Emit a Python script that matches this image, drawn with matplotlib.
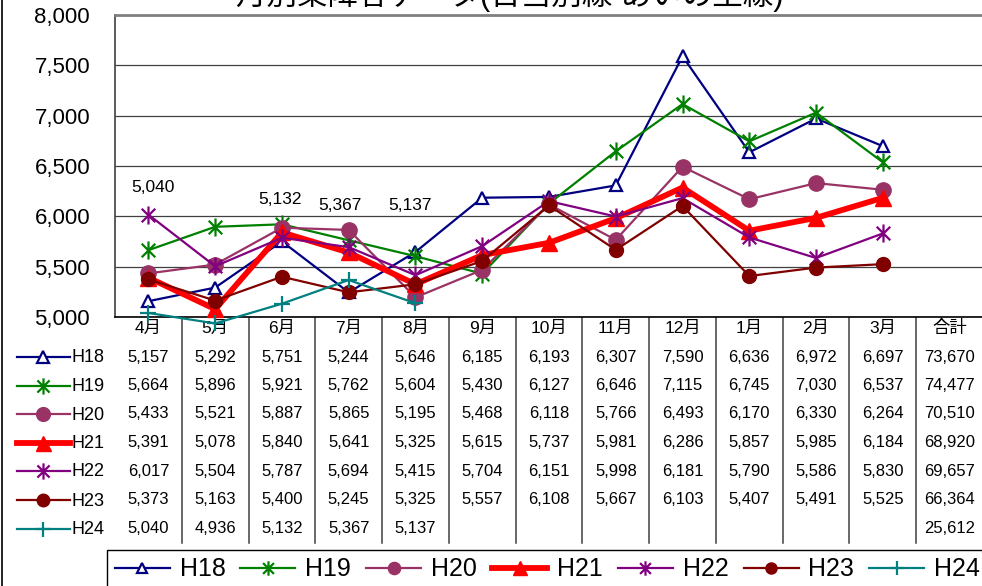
import numpy as np
import matplotlib.pyplot as plt
from matplotlib.path import Path
from matplotlib import transforms

plt.rcParams['font.family'] = ['Liberation Sans', 'Noto Sans CJK JP']

# ------------------------------------------------------------
# Data
# ------------------------------------------------------------
months = ['4月', '5月', '6月', '7月', '8月', '9月', '10月', '11月',
          '12月', '1月', '2月', '3月', '合計']
names = ['H18', 'H19', 'H20', 'H21', 'H22', 'H23', 'H24']

h18 = [5157, 5292, 5751, 5244, 5646, 6185, 6193, 6307, 7590, 6636, 6972, 6697]
h19 = [5664, 5896, 5921, 5762, 5604, 5430, 6127, 6646, 7115, 6745, 7030, 6537]
h20 = [5433, 5521, 5887, 5865, 5195, 5468, 6118, 5766, 6493, 6170, 6330, 6264]
h21 = [5391, 5078, 5840, 5641, 5325, 5615, 5737, 5981, 6286, 5857, 5985, 6184]
h22 = [6017, 5504, 5787, 5694, 5415, 5704, 6151, 5998, 6181, 5790, 5586, 5830]
h23 = [5373, 5163, 5400, 5245, 5325, 5557, 6108, 5667, 6103, 5407, 5491, 5525]
h24 = [5040, 4936, 5132, 5367, 5137, np.nan, np.nan, np.nan, np.nan, np.nan,
       np.nan, np.nan]
totals = [73670, 74477, 70510, 68920, 69657, 66364, 25612]

# which H24 points carry a value label, and where the label sits (points)
lab_idx = [0, 2, 3, 4]
h24_label_offsets = [(3, 90), (-1, 75), (-6, 54), (-4, 70)]

# ------------------------------------------------------------
# Styles
# ------------------------------------------------------------
star = Path([(0, -1), (0, 1), (-0.75, -0.75), (0.75, 0.75),
             (-0.75, 0.75), (0.75, -0.75)],
            [Path.MOVETO, Path.LINETO, Path.MOVETO, Path.LINETO,
             Path.MOVETO, Path.LINETO])

styles = {
    'H18': dict(color='#000080', lw=1.6, marker='^', ms=9, mfc='white', mew=1.6),
    'H19': dict(color='#008000', lw=1.6, marker=star, ms=13, mew=1.6),
    'H20': dict(color='#993366', lw=1.6, marker='o', ms=11),
    'H21': dict(color='#FF0000', lw=4.2, marker='^', ms=12),
    'H22': dict(color='#800080', lw=1.6, marker=star, ms=13, mew=1.6),
    'H23': dict(color='#800000', lw=1.6, marker='o', ms=10),
    'H24': dict(color='#008080', lw=1.6, marker='+', ms=12, mew=1.6),
}

W, H = 982, 586
fig = plt.figure(figsize=(W / 100, H / 100), dpi=100)

# plot area in pixels: x 115..983, y 15..317
ax = fig.add_axes([115 / W, 1 - 317 / H, 868 / W, 302 / H])

# overlay in pixel coordinates for table / extras
ov = fig.add_axes([0, 0, 1, 1], zorder=-1)
ov.set_xlim(0, W)
ov.set_ylim(H, 0)
ov.axis('off')

series = [h18, h19, h20, h21, h22, h23, h24]
x = np.arange(len(h18))
handles = []
for name, vals in zip(names, series):
    st = styles[name]
    ln, = ax.plot(x, vals, color=st['color'], lw=st['lw'], marker=st['marker'],
                  ms=st['ms'], mfc=st.get('mfc', st['color']),
                  mec=st['color'], mew=st.get('mew', 1.0), clip_on=False,
                  label=name, zorder=3)
    handles.append(ln)

# H24 value labels
for i, (dx, dy) in zip(lab_idx, h24_label_offsets):
    ax.annotate(f"{h24[i]:,.0f}", (x[i], h24[i]), xytext=(dx, dy),
                textcoords='offset points', ha='center', va='center',
                fontsize=12.5)

ax.set_xlim(-0.5, len(months) - 0.5)
ax.set_ylim(5000, 8000)
ax.set_yticks(np.arange(5000, 8001, 500))
ax.set_yticklabels([f"{v:,}" for v in range(5000, 8001, 500)], fontsize=16)
ax.tick_params(axis='y', length=0, pad=18)
ax.set_xticks([])
ax.grid(axis='y', color='#404040', lw=0.9)
ax.set_axisbelow(True)
ax.spines['right'].set_visible(False)
ax.spines['top'].set_color('#808080')
ax.spines['top'].set_linewidth(2)
ax.spines['left'].set_color('#404040')
ax.spines['left'].set_linewidth(1.2)
ax.spines['bottom'].set_color('black')
ax.spines['bottom'].set_linewidth(1.2)

# title (clipped at top edge as in the original)
fig.text(510 / W, 1 - 5 / H, '月別乗降客データ(日当別線 あいの土線)',
         ha='center', va='baseline', fontsize=22)

# ------------------------------------------------------------
# Data table under the chart
# ------------------------------------------------------------
trans = transforms.blended_transform_factory(ax.transData, ov.transData)
header_y = 328
row_y = [357, 385.5, 414, 442.5, 471, 500, 528.5]

for i, m in enumerate(months):
    ov.text(i, header_y, m, transform=trans, ha='center', va='center',
            fontsize=12.5)
for i in range(len(months) - 1):
    ov.plot([i + 0.5, i + 0.5], [317, 543], transform=trans,
            color='#404040', lw=1.1)

for r, (name, vals) in enumerate(zip(names, series)):
    y = row_y[r]
    for i, v in enumerate(vals):
        if not np.isnan(v):
            ov.text(i, y, f"{v:,.0f}", transform=trans, ha='center',
                    va='center', fontsize=12)
    ov.text(len(months) - 1, y, f"{totals[r]:,}", transform=trans,
            ha='center', va='center', fontsize=12)
    # legend key
    st = styles[name]
    ov.plot([17, 70], [y, y], color=st['color'], lw=st['lw'])
    ov.plot([43], [y], color=st['color'], marker=st['marker'],
            ms=st['ms'] * 0.9, mfc=st.get('mfc', st['color']),
            mec=st['color'], mew=st.get('mew', 1.0))
    ov.text(72, y + 1, name, ha='left', va='center', fontsize=13)

# left border of chart area
ov.plot([2, 2], [0, H], color='black', lw=1.2)

# bottom legend
leg = ax.legend(handles=handles, loc='upper left',
                bbox_to_anchor=(107 / W, 1 - 550 / H),
                bbox_transform=fig.transFigure, ncol=7, fontsize=18,
                frameon=True, fancybox=False, edgecolor='black',
                framealpha=1, handlelength=2.2, handletextpad=0.4,
                columnspacing=0.6, borderpad=0.3, borderaxespad=0,
                markerscale=0.8)
leg.get_frame().set_linewidth(1.0)

fig.savefig('out.png', dpi=100)
